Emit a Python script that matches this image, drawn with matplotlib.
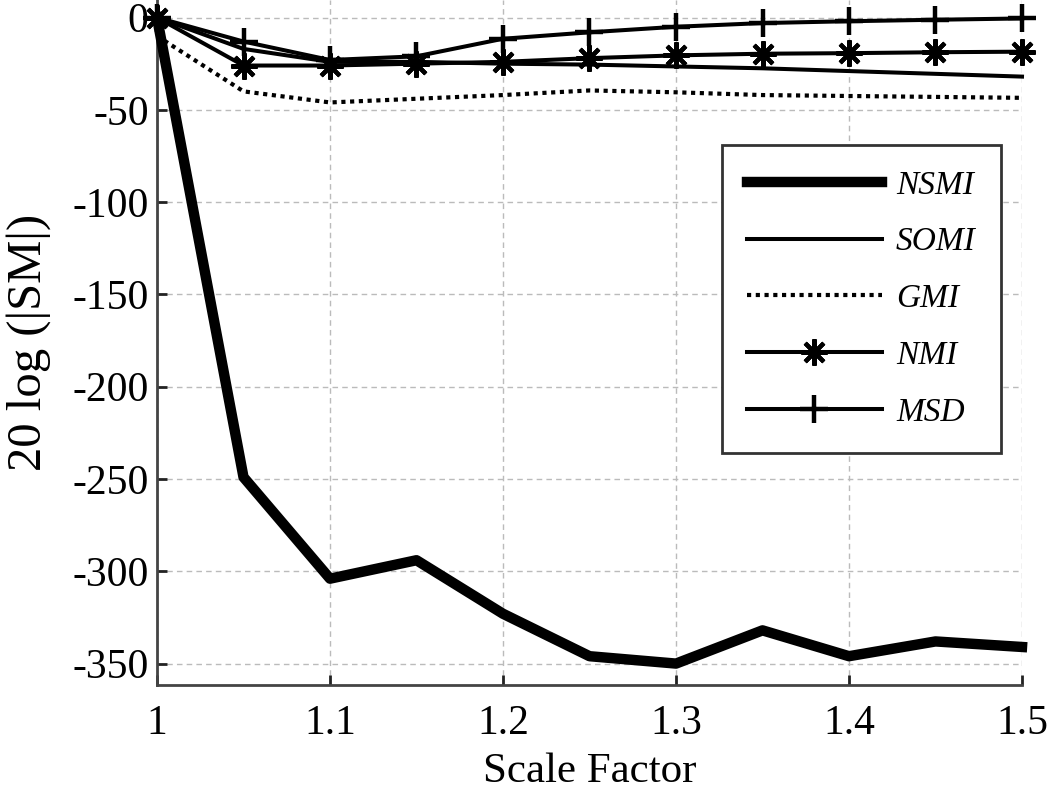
import matplotlib
matplotlib.use("Agg")
import matplotlib.pyplot as plt

plt.rcParams['font.family'] = ['Liberation Serif', 'DejaVu Serif']
plt.rcParams['axes.unicode_minus'] = False

scale = [1.0, 1.05, 1.1, 1.15, 1.2, 1.25, 1.3, 1.35, 1.4, 1.45, 1.5]
nsmi = [0, -249, -304, -294, -323, -346, -350, -332, -346, -338, -341]
somi = [0, -17, -24, -24, -25, -25.5, -26.5, -27.5, -29, -30.5, -32]
gmi = [-10, -40, -46, -44, -42, -39.5, -40.5, -42, -42.5, -43, -43.5]
nmi = [0, -26, -26, -25, -24, -22, -20.5, -19.6, -19.3, -18.8, -18.5]
msd = [0, -13, -23, -21, -11.5, -8, -5, -3, -2, -1.2, -0.5]

xticks = [1, 1.1, 1.2, 1.3, 1.4, 1.5]
xticklabels = ['1', '1.1', '1.2', '1.3', '1.4', '1.5']
yticks = [0, -50, -100, -150, -200, -250, -300, -350]
yticklabels = ['0', '-50', '-100', '-150', '-200', '-250', '-300', '-350']

fig = plt.figure(figsize=(10.5, 7.97), dpi=100)
ax = fig.add_axes([157/1050, 1-685/797, (1022-157)/1050, 685/797])

asterisk = (8, 2, 0)
ax.plot(scale, gmi, color='black', lw=3.0, ls=(0, (1, 1.1)), label='GMI', clip_on=False, zorder=3)
ax.plot(scale, somi, color='black', lw=2.9, label='SOMI', clip_on=False, zorder=4)
ax.plot(scale, nmi, color='black', lw=2.9, marker=asterisk, ms=19, mew=3, label='NMI', clip_on=False, zorder=5)
ax.plot(scale, msd, color='black', lw=2.9, marker='+', ms=20, mew=3.2, label='MSD', clip_on=False, zorder=6)
ax.plot(scale, nsmi, color='black', lw=7.5, label='NSMI', clip_on=False, zorder=7, solid_joinstyle='round')

ax.set_xlim(1, 1.5)
ax.set_ylim(-361.6, 9.5)
ax.set_xticks(xticks)
ax.set_xticklabels(xticklabels)
ax.set_yticks(yticks)
ax.set_yticklabels(yticklabels)

ax.grid(True, color='#bbbbbb', ls=(0, (4, 3)), lw=1.0)
ax.set_axisbelow(True)
for s in ['top', 'right']:
    ax.spines[s].set_visible(False)
for s in ['left', 'bottom']:
    ax.spines[s].set_color('#444444')
    ax.spines[s].set_linewidth(2)
ax.tick_params(direction='in', length=7, width=2, color='#222222', labelsize=30, pad=6)
ax.tick_params(axis='x', pad=14)

ax.set_xlabel('Scale Factor', fontsize=31, labelpad=7)
ax.set_ylabel('20 log (|SM|)', fontsize=35, labelpad=15)

handles, labels = ax.get_legend_handles_labels()
order = ['NSMI', 'SOMI', 'GMI', 'NMI', 'MSD']
hmap = dict(zip(labels, handles))
leg = ax.legend([hmap[k] for k in order], order, loc='upper left',
                bbox_to_anchor=((722-157)/865, 1-(145)/685), bbox_transform=ax.transAxes,
                borderaxespad=0,
                prop={'family': 'Liberation Serif', 'style': 'italic', 'size': 24},
                frameon=True, fancybox=False, edgecolor='#333333', framealpha=1,
                handlelength=4.05, handletextpad=0.42, labelspacing=0.79,
                borderpad=0.75, markerscale=1.0)
leg.get_frame().set_linewidth(2)

fig.savefig('out.png', dpi=100)
